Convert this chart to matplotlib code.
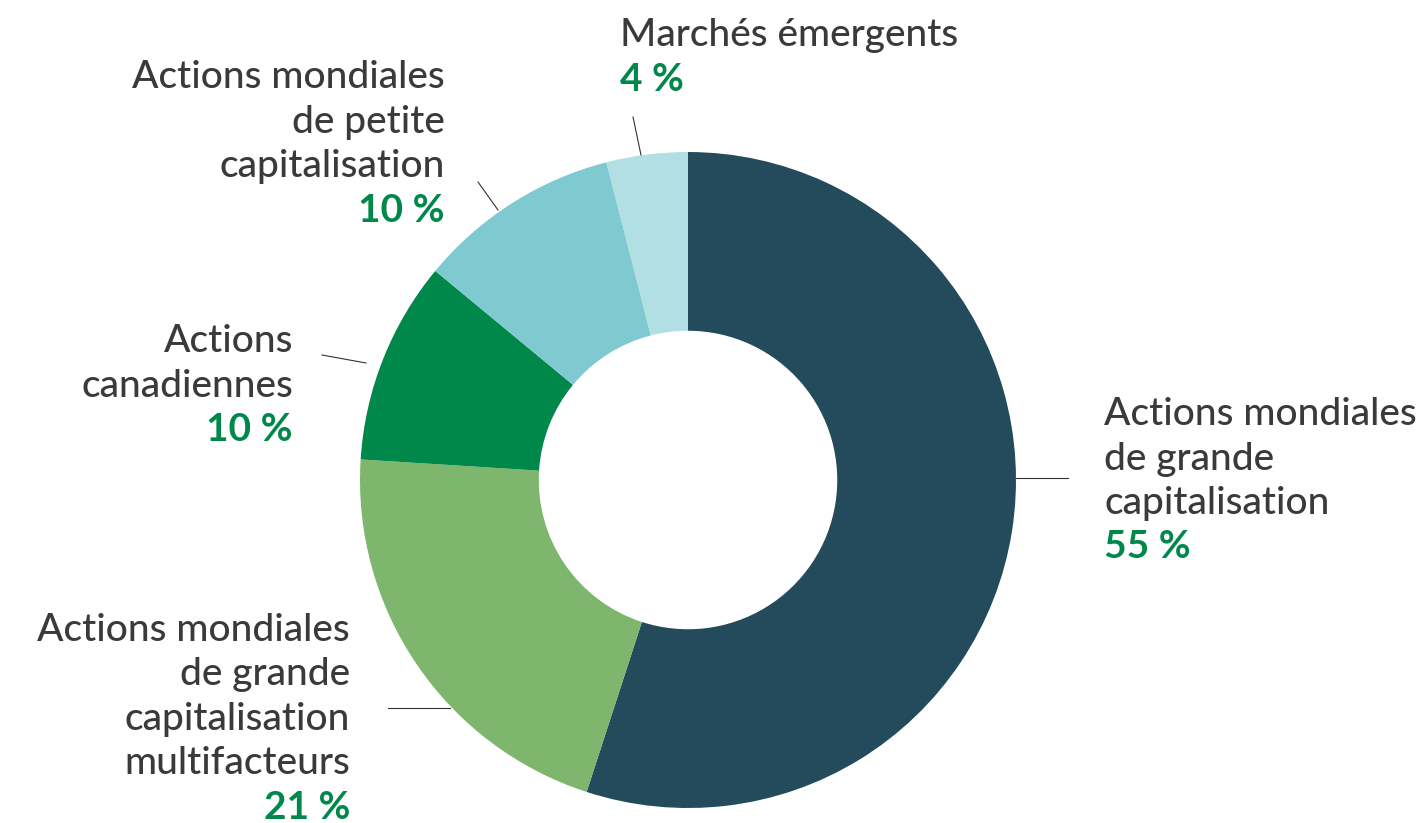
import matplotlib
matplotlib.use('Agg')
import matplotlib.pyplot as plt

# data
shares = [55, 21, 10, 10, 4]
names = [
    ['Actions mondiales', 'de grande', 'capitalisation'],
    ['Actions mondiales', 'de grande', 'capitalisation', 'multifacteurs'],
    ['Actions', 'canadiennes'],
    ['Actions mondiales', 'de petite', 'capitalisation'],
    ['Marchés émergents'],
]
pct_labels = ['55 %', '21 %', '10 %', '10 %', '4 %']
colors = ['#244b5c', '#7fb66e', '#00874a', '#7fc9d1', '#b2dfe3']

text_grey = '#3a3a3a'
pct_green = '#00874a'

W, H = 1424, 823
fig = plt.figure(figsize=(W / 100, H / 100), dpi=100)
ax = fig.add_axes([0, 0, 1, 1])
ax.set_xlim(0, W)
ax.set_ylim(0, H)
ax.set_aspect('equal')
ax.axis('off')

cx, cy, r = 688, H - 480, 328
ax.pie(shares, colors=colors, startangle=90, counterclock=False,
       center=(cx, cy), radius=r, frame=True,
       wedgeprops=dict(width=r * 0.545, linewidth=0))
ax.set_xlim(0, W)
ax.set_ylim(0, H)
ax.axis('off')

# label blocks: x, first baseline (pixels from top), alignment
blocks = [
    (1104, 425, 'left'),
    (350, 641, 'right'),
    (293, 352, 'right'),
    (445, 88, 'right'),
    (620, 46, 'left'),
]
step = 44.5
font = 'Lato'
fs = 28
for (x, y0, ha), lines, pct in zip(blocks, names, pct_labels):
    for i, line in enumerate(lines):
        ax.text(x, H - (y0 + i * step), line, ha=ha, va='baseline',
                fontsize=fs, color=text_grey, family=font, fontweight='medium')
    ax.text(x, H - (y0 + len(lines) * step), pct, ha=ha, va='baseline',
            fontsize=fs, color=pct_green, family=font, fontweight='bold')

# leader lines (pixel coords from top)
leaders = [
    ((1016, 478), (1068, 478)),
    ((388, 708), (450, 708)),
    ((322, 355), (366, 363)),
    ((478, 182), (498, 210)),
    ((633, 117), (641, 155)),
]
for (x1, y1), (x2, y2) in leaders:
    ax.plot([x1, x2], [H - y1, H - y2], color='#333333', linewidth=0.8)

fig.savefig('out.png', dpi=100, facecolor='white')
